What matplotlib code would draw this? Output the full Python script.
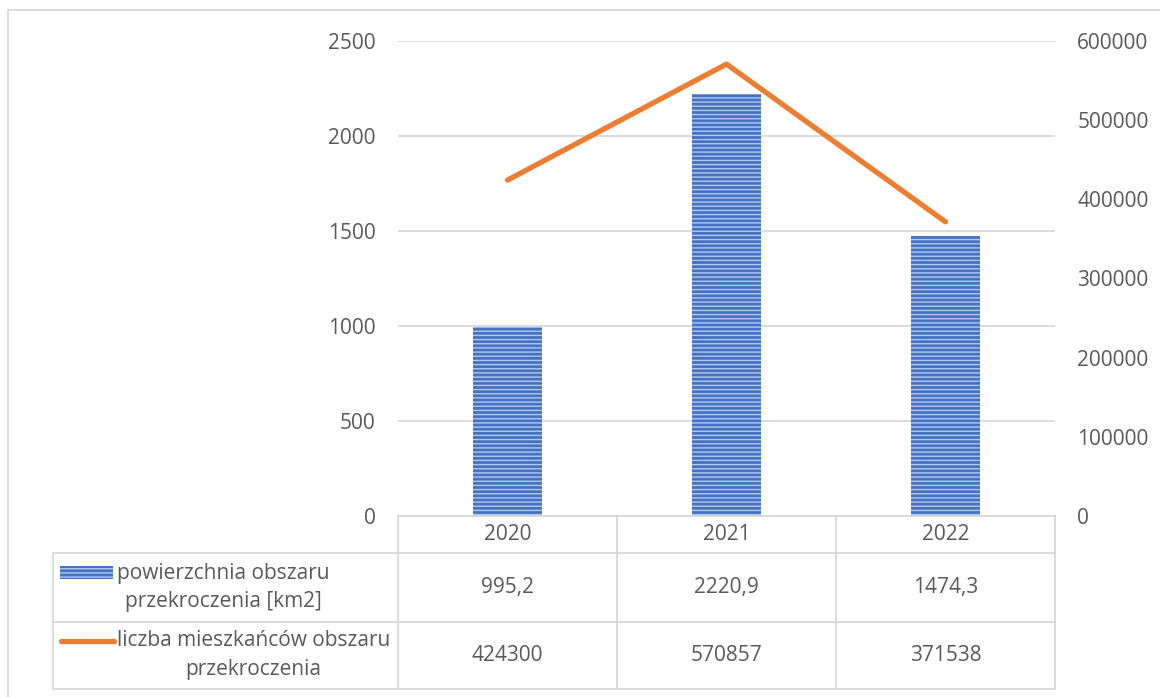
import matplotlib.pyplot as plt
import matplotlib.patches as mpatches
import numpy as np

plt.rcParams['font.family'] = ['Open Sans', 'DejaVu Sans']
plt.rcParams['hatch.color'] = '#B4C8EC'
plt.rcParams['hatch.linewidth'] = 1.0

years = ['2020', '2021', '2022']
area = [995.2, 2220.9, 1474.3]
people = [424300, 570857, 371538]
area_label = 'powierzchnia obszaru\nprzekroczenia [km2]'
people_label = 'liczba mieszkańców obszaru\nprzekroczenia'
area_txt = ['995,2', '2220,9', '1474,3']

bar_col = '#4472C4'
line_col = '#ED7D31'
grid_col = '#D9D9D9'
txt_col = '#595959'
fs = 15

W, H = 1160, 697
fig = plt.figure(figsize=(W / 100, H / 100), dpi=100)

# plot area in pixels
x0, x1, y0, y1 = 398, 1055, 41, 516
ax = fig.add_axes([x0 / W, 1 - y1 / H, (x1 - x0) / W, (y1 - y0) / H])
ax2 = ax.twinx()

x = np.arange(len(years))
ax.bar(x, area, width=0.315, color=bar_col, hatch='----', linewidth=0, zorder=2)
ax.set_xlim(-0.5, len(years) - 0.5)
ax.set_ylim(0, 2500)
ax.set_yticks(np.arange(0, 2501, 500))
ax.yaxis.grid(True, color=grid_col, linewidth=1.3, zorder=0)
ax.set_axisbelow(True)
ax.set_xticks([])

ax2.plot(x, people, color=line_col, linewidth=3.8, solid_capstyle='round', solid_joinstyle='round', zorder=3)
ax2.set_ylim(0, 600000)
ax2.set_yticks(np.arange(0, 600001, 100000))

for a in (ax, ax2):
    for s in a.spines.values():
        s.set_visible(False)
    a.tick_params(length=0, labelsize=fs, labelcolor=txt_col, pad=16)

# table under the plot, in figure pixels
def px(xp, yp):
    return xp / W, 1 - yp / H

def hline(xa, xb, yp):
    fig.add_artist(plt.Line2D([xa / W, xb / W], [1 - yp / H, 1 - yp / H], color=grid_col, linewidth=1.3))

def vline(xp, ya, yb):
    fig.add_artist(plt.Line2D([xp / W, xp / W], [1 - ya / H, 1 - yb / H], color=grid_col, linewidth=1.3))

tl, rows = 53, [516, 553, 622, 689]
col_w = (x1 - x0) / len(years)
hline(x0, x1, rows[0])
for r in rows[1:]:
    hline(tl, x1, r)
vline(tl, rows[1], rows[3])
for i in range(len(years) + 1):
    vline(x0 + i * col_w, rows[0], rows[3])

for i, yr in enumerate(years):
    cx = x0 + (i + 0.5) * col_w
    fig.text(*px(cx, (rows[0] + rows[1]) / 2), yr, ha='center', va='center', fontsize=fs, color=txt_col)
    fig.text(*px(cx, (rows[1] + rows[2]) / 2), area_txt[i], ha='center', va='center', fontsize=fs, color=txt_col)
    fig.text(*px(cx, (rows[2] + rows[3]) / 2), str(people[i]), ha='center', va='center', fontsize=fs, color=txt_col)

# legend keys in row headers
sw = mpatches.Rectangle(px(60, 579), 53 / W, 13 / H, transform=fig.transFigure,
                        facecolor=bar_col, hatch='----', linewidth=0)
fig.add_artist(sw)
fig.add_artist(plt.Line2D([61 / W, 114 / W], [1 - 641 / H] * 2, color=line_col, linewidth=3.8, solid_capstyle='round'))
fig.text(*px(117, (rows[1] + rows[2]) / 2), area_label, ha='left', va='center', multialignment='center',
         fontsize=fs, color=txt_col, linespacing=1.5)
fig.text(*px(117, (rows[2] + rows[3]) / 2), people_label, ha='left', va='center', multialignment='center',
         fontsize=fs, color=txt_col, linespacing=1.5)

# chart border
hline(8, W, 10)
vline(8, 10, H)

fig.savefig('out.png', dpi=100)
